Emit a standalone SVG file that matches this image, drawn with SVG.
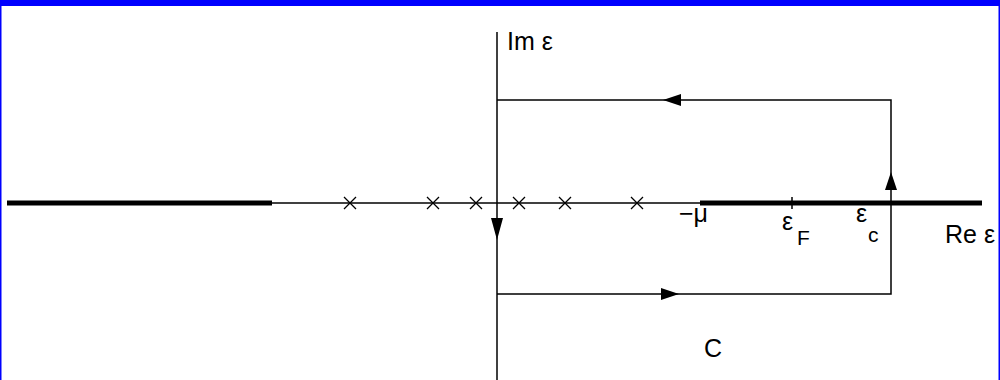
<svg xmlns="http://www.w3.org/2000/svg" width="1000" height="380" viewBox="0 0 1000 380">
<defs>
<style>
.ax{stroke:#000;stroke-width:1.5;fill:none}
.thick{stroke:#000;stroke-width:5;fill:none}
.ah{fill:#000;stroke:none}
.t{font-family:"Liberation Sans",Arial,sans-serif;font-size:25px;fill:#000}
.s{font-family:"Liberation Sans",Arial,sans-serif;font-size:21px;fill:#000}
.x{stroke:#000;stroke-width:1.3}
</style>
</defs>
<rect x="0" y="0" width="1000" height="380" fill="#fff"/>
<g id="frame">
<rect x="0" y="0" width="1000" height="6" fill="#0000ff"/>
<rect x="0" y="0" width="1.5" height="380" fill="#0000ff"/>
<rect x="998.5" y="0" width="1.5" height="380" fill="#0000ff"/>
</g>
<g id="axes">
<line class="ax" x1="497" y1="32" x2="497" y2="380"/>
<line class="ax" x1="272" y1="203" x2="700" y2="203"/>
<line class="thick" x1="7" y1="203" x2="272" y2="203"/>
<line class="thick" x1="700" y1="203" x2="982" y2="203"/>
<line class="ax" x1="792" y1="197" x2="792" y2="209"/>
</g>
<g id="poles">
<path class="x" d="M344,197l12,12M356,197l-12,12"/>
<path class="x" d="M427,197l12,12M439,197l-12,12"/>
<path class="x" d="M470,197l12,12M482,197l-12,12"/>
<path class="x" d="M513,197l12,12M525,197l-12,12"/>
<path class="x" d="M559,197l12,12M571,197l-12,12"/>
<path class="x" d="M631,197l12,12M643,197l-12,12"/>
</g>
<g id="connectors">
<polyline class="ax" points="497,100 891,100 891,294 497,294"/>
<polygon class="ah" points="663,100 681,94 681,106"/>
<polygon class="ah" points="679,294 661,288 661,300"/>
<polygon class="ah" points="891,172 885,190 897,190"/>
<polygon class="ah" points="497,240 491,218 503,218"/>
</g>
<g id="labels">
<text class="t" x="507" y="50">Im ε</text>
<text class="t" x="679" y="222">−μ</text>
<text class="t" x="782" y="230">ε</text>
<text class="s" x="797" y="245">F</text>
<text class="t" x="856" y="222">ε</text>
<text class="s" x="868" y="242">c</text>
<text class="t" x="945" y="243">Re ε</text>
<text class="t" x="704" y="357">C</text>
</g>
</svg>
